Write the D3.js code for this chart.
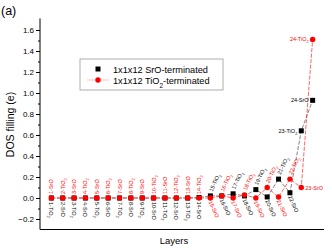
<!DOCTYPE html>
<html lang="en">
<head>
<meta charset="UTF-8">
<title>DOS filling by layer</title>
<script src="https://d3js.org/d3.v7.min.js"></script>
<style>
  html, body { margin: 0; padding: 0; background: white; }
  body { font-family: 'Liberation Sans', Arial, sans-serif; }
  .tick text { font-size: 8px; }
  .lbl { font-size: 5.5px; }
</style>
</head>
<body>
<div id="chart"></div>
<script>

// --------------------------------------
// Data
// --------------------------------------

const layers = [1, 2, 3, 4, 5, 6, 7, 8, 9, 10, 11, 12, 13, 14, 15, 16, 17, 18, 19, 20, 21, 22, 23, 24];

// 1x1x12 SrO-terminated (black squares)
const sroValues = [0, 0, 0, 0, 0, 0, 0, 0, 0, 0, 0, 0, 0, 0.005,
                   0.02, 0.02, 0.04, 0.02, 0.08, 0.01, 0.18, 0.05, 0.64, 0.93];
const sroNames = ["TiO2", "SrO", "TiO2", "SrO", "TiO2", "SrO", "TiO2", "SrO", "TiO2", "SrO", "TiO2", "SrO",
                  "TiO2", "SrO", "TiO2", "SrO", "TiO2", "SrO", "TiO2", "SrO", "TiO2", "SrO", "TiO2", "SrO"];

// 1x1x12 TiO2-terminated (red circles)
const tioValues = [0, 0, 0, 0, 0, 0, 0, 0, 0, 0, 0, 0, 0, 0,
                   0.0, 0.02, 0.0, 0.03, 0.0, 0.10, 0.01, 0.18, 0.10, 1.51];
const tioNames = ["SrO", "TiO2", "SrO", "TiO2", "SrO", "TiO2", "SrO", "TiO2", "SrO", "TiO2", "SrO", "TiO2",
                  "SrO", "TiO2", "SrO", "TiO2", "SrO", "TiO2", "SrO", "TiO2", "SrO", "TiO2", "SrO", "TiO2"];

const yTicks = [-0.2, 0.0, 0.2, 0.4, 0.6, 0.8, 1.0, 1.2, 1.4, 1.6];
const legendLabels = ["1x1x12 SrO-terminated", "1x1x12 TiO2-terminated"];

// --------------------------------------
// Size and scales
// --------------------------------------

const totalWidth = 332, totalHeight = 250;
const svg = d3.select("#chart").append("svg")
  .attr("width", totalWidth)
  .attr("height", totalHeight);

const x = d3.scaleLinear().domain([0, 25]).range([40, 324]);
const y = d3.scaleLinear().domain([-0.3, 1.7]).range([229.5, 19.5]);

// text with subscript 2 for "TiO2"
function writeName(sel, txt) {
  const m = txt.match(/^(.*O)2(.*)$/);
  if (m) {
    sel.append("tspan").text(m[1]);
    sel.append("tspan").attr("baseline-shift", "sub").attr("font-size", "0.7em").text("2");
    if (m[2]) sel.append("tspan").text(m[2]);
  } else {
    sel.text(txt);
  }
}

// --------------------------------------
// Axes
// --------------------------------------

const yAxis = svg.append("g")
  .attr("transform", "translate(40,0)")
  .call(d3.axisLeft(y).tickValues(yTicks).tickSize(4).tickPadding(2)
    .tickFormat(d3.format(".1f")));
yAxis.select(".domain").attr("d", `M0,${y(1.71)}V${y(-0.3)}`);

svg.append("g")
  .attr("transform", "translate(40,0)")
  .call(d3.axisLeft(y).tickValues(yTicks.map(v => v + 0.1).filter(v => v < 1.7)).tickSize(2).tickFormat(""))
  .select(".domain").remove();

svg.append("line")
  .attr("x1", 40).attr("x2", 324)
  .attr("y1", y(-0.3)).attr("y2", y(-0.3))
  .attr("stroke", "black").attr("stroke-width", 1.2);

svg.append("text")
  .attr("transform", `translate(14,${y(0.7)}) rotate(-90)`)
  .attr("text-anchor", "middle")
  .attr("font-size", 10.5)
  .text("DOS filling (e)");

svg.append("text")
  .attr("x", 174).attr("y", 244)
  .attr("text-anchor", "middle")
  .attr("font-size", 9.5)
  .text("Layers");

svg.append("text")
  .attr("x", 1).attr("y", 15)
  .attr("font-size", 12.5)
  .text("(a)");

// --------------------------------------
// Lines and points
// --------------------------------------

const line = d3.line().x((d, i) => x(layers[i])).y(d => y(d));

svg.append("path").datum(sroValues)
  .attr("d", line).attr("fill", "none")
  .attr("stroke", "#333").attr("stroke-width", 0.6).attr("stroke-dasharray", "4,1.5");

svg.append("path").datum(tioValues)
  .attr("d", line).attr("fill", "none")
  .attr("stroke", "#f22").attr("stroke-width", 0.7).attr("stroke-dasharray", "4,1.5");

svg.selectAll(".sq").data(sroValues).join("rect")
  .attr("class", "sq")
  .attr("x", (d, i) => x(layers[i]) - 2.5)
  .attr("y", d => y(d) - 2.5)
  .attr("width", 5).attr("height", 5)
  .attr("fill", "black");

svg.selectAll(".dot").data(tioValues).join("circle")
  .attr("class", "dot")
  .attr("cx", (d, i) => x(layers[i]))
  .attr("cy", d => y(d))
  .attr("r", 2.7)
  .attr("fill", "red");

// --------------------------------------
// Point labels
// --------------------------------------

function placeLabel(layer, value, above, color, name, mode) {
  const px = x(layer), py = y(value);
  const t = svg.append("text").attr("class", "lbl").attr("fill", color);
  if (mode === "left") {
    t.attr("x", px - 4).attr("y", py + 2).attr("text-anchor", "end");
  } else if (mode === "right") {
    t.attr("x", px + 4).attr("y", py + 2);
  } else {
    const ang = mode === "slant" ? 65 : 90;
    if (above) t.attr("transform", `translate(${px + 2},${py - 4}) rotate(${-ang})`);
    else t.attr("transform", `translate(${px - 2},${py + 4}) rotate(${ang})`);
  }
  writeName(t, layer + "-" + name);
}

layers.forEach((l, i) => {
  // black series
  let mode = l <= 14 ? "vert" : (l <= 22 ? "slant" : "left");
  let above = l >= 15 && l % 2 === 1;
  placeLabel(l, sroValues[i], above, "black", sroNames[i], mode);
  // red series
  let rmode = l <= 14 ? "vert" : (l <= 22 ? "slant" : (l === 23 ? "right" : "left"));
  let rabove = l <= 14 || l % 2 === 0;
  placeLabel(l, tioValues[i], rabove, "red", tioNames[i], rmode);
});

// --------------------------------------
// Legend
// --------------------------------------

const legend = svg.append("g").attr("transform", "translate(80,59)");
legend.append("rect")
  .attr("width", 143).attr("height", 31)
  .attr("fill", "white").attr("stroke", "#999").attr("stroke-width", 0.8);

legend.append("rect").attr("x", 15.5).attr("y", 7.5).attr("width", 5).attr("height", 5).attr("fill", "black");
legend.append("line").attr("x1", 7).attr("x2", 29).attr("y1", 21).attr("y2", 21)
  .attr("stroke", "#f99").attr("stroke-width", 0.6);
legend.append("circle").attr("cx", 18).attr("cy", 21).attr("r", 2.7).attr("fill", "red");

legendLabels.forEach((txt, i) => {
  const t = legend.append("text")
    .attr("x", 33).attr("y", 13.5 + i * 11)
    .attr("font-size", 9.2);
  writeName(t, txt);
});

</script>
</body>
</html>
